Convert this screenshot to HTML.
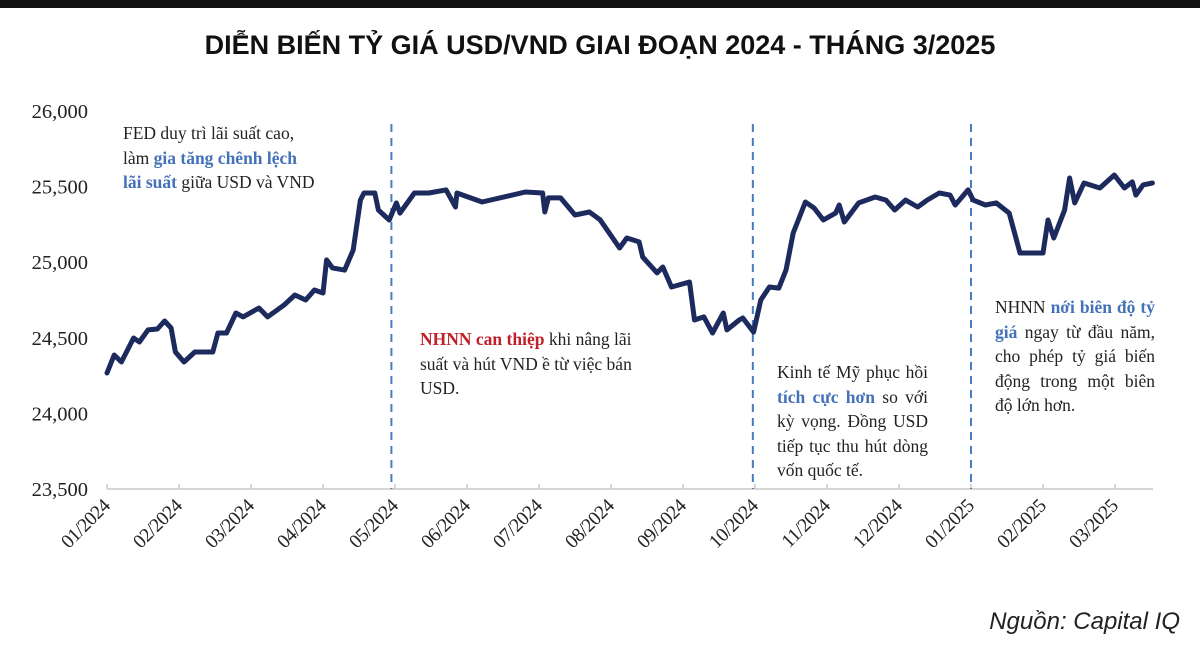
<!DOCTYPE html>
<html><head><meta charset="utf-8">
<style>
body{margin:0;width:1200px;height:654px;background:#fff;position:relative;overflow:hidden;font-family:"Liberation Serif",serif}
.ann{position:absolute;font-size:17.5px;line-height:24.5px;color:#222}
.ann div{white-space:nowrap}
.j div{text-align:justify;text-align-last:justify;white-space:normal}
.j div.last{text-align-last:left}
.b{color:#4472b8;font-weight:bold}
.r{color:#c0202a;font-weight:bold}
</style></head><body>
<div style="position:absolute;left:0;top:0;width:1200px;height:8px;background:#111"></div>
<div style="position:absolute;left:0;top:30px;width:1200px;text-align:center;font-family:'Liberation Sans',sans-serif;font-weight:bold;font-size:27px;color:#111">DIỄN BIẾN TỶ GIÁ USD/VND GIAI ĐOẠN 2024 - THÁNG 3/2025</div>
<svg id="chart" width="1200" height="654" style="position:absolute;left:0;top:0"></svg>
<div class="ann" style="left:123px;top:121px">
<div>FED duy trì lãi suất cao,</div><div>làm <span class="b">gia tăng chênh lệch</span></div><div><span class="b">lãi suất</span> giữa USD và VND</div></div>
<div class="ann" style="left:420px;top:327px">
<div><span class="r">NHNN can thiệp</span> khi nâng lãi</div><div>suất và hút VND ề từ việc bán</div><div>USD.</div></div>
<div class="ann j" style="left:777px;top:360px;width:151px">
<div>Kinh tế Mỹ phục hồi</div><div><span class="b">tích cực hơn</span> so với</div><div>kỳ vọng. Đồng USD</div><div>tiếp tục thu hút dòng</div><div class="last">vốn quốc tế.</div></div>
<div class="ann j" style="left:995px;top:295px;width:160px">
<div>NHNN <span class="b">nới biên độ tỷ</span></div><div><span class="b">giá</span> ngay từ đầu năm,</div><div>cho phép tỷ giá biến</div><div>động trong một biên</div><div class="last">độ lớn hơn.</div></div>
<div style="position:absolute;right:20px;top:608px;font-family:'Liberation Sans',sans-serif;font-style:italic;font-size:24px;color:#222">Nguồn: Capital IQ</div>
<script>
const monthLabels=["01/2024","02/2024","03/2024","04/2024","05/2024","06/2024","07/2024","08/2024","09/2024","10/2024","11/2024","12/2024","01/2025","02/2025","03/2025"];
const yTicks=[23500,24000,24500,25000,25500,26000];
const eventMonths=[3.95,8.97,12.0];
const t=[0,0.10,0.20,0.37,0.45,0.57,0.70,0.80,0.89,0.95,1.07,1.22,1.47,1.54,1.66,1.79,1.89,2.11,2.23,2.46,2.61,2.76,2.88,3.00,3.05,3.13,3.30,3.42,3.52,3.57,3.72,3.77,3.92,4.02,4.07,4.27,4.47,4.71,4.84,4.86,5.21,5.81,6.05,6.08,6.13,6.30,6.50,6.70,6.85,7.12,7.22,7.39,7.44,7.64,7.72,7.84,8.09,8.16,8.29,8.41,8.56,8.61,8.78,8.83,8.98,9.08,9.20,9.33,9.43,9.53,9.70,9.82,9.95,10.12,10.17,10.24,10.44,10.67,10.82,10.94,11.09,11.26,11.39,11.56,11.71,11.78,11.96,12.03,12.20,12.35,12.53,12.68,13.00,13.07,13.15,13.30,13.37,13.44,13.57,13.79,13.99,14.13,14.24,14.29,14.39,14.52];
const rate=[24267,24386,24340,24499,24472,24552,24558,24611,24565,24406,24340,24406,24406,24532,24532,24664,24638,24697,24638,24717,24783,24750,24816,24796,25015,24962,24948,25081,25411,25458,25458,25345,25279,25392,25325,25458,25458,25478,25365,25458,25398,25464,25458,25332,25425,25425,25312,25332,25280,25094,25160,25134,25034,24929,24968,24836,24869,24618,24638,24532,24664,24552,24618,24631,24538,24750,24836,24829,24948,25193,25398,25359,25279,25325,25378,25266,25392,25431,25411,25345,25411,25365,25411,25458,25444,25378,25478,25411,25378,25392,25325,25061,25061,25279,25160,25345,25557,25392,25524,25491,25577,25491,25531,25444,25511,25524];
const NS="http://www.w3.org/2000/svg";
const svg=document.getElementById('chart');
const X0=107,XM=72,Y0=489,YK=378/2500;
const xs=m=>X0+m*XM, ys=v=>Y0-(v-23500)*YK;
function mk(tag,attrs){const e=document.createElementNS(NS,tag);for(const k in attrs)e.setAttribute(k,attrs[k]);svg.appendChild(e);return e;}
const ax=mk('line',{x1:X0,x2:1153,y1:Y0,y2:Y0,stroke:'#c8c8c8','stroke-width':1.5});


yTicks.forEach(v=>{const tx=mk('text',{x:88,y:ys(v)+7,'text-anchor':'end','font-size':20.5,'font-family':'Liberation Serif, serif',fill:'#222'});tx.textContent=v.toLocaleString('en-US');

});
monthLabels.forEach((lb,i)=>{const x=xs(i);
const tk=mk('line',{x1:x,x2:x,y1:Y0-5,y2:Y0,stroke:'#c8c8c8','stroke-width':1.5});


const ex=x+4, ey=Y0+18;
const tx=mk('text',{x:ex,y:ey,'text-anchor':'end','font-size':19.5,'font-family':'Liberation Serif, serif',fill:'#222','letter-spacing':'-0.6',transform:`rotate(-45 ${ex} ${ey})`});tx.textContent=lb;

});
eventMonths.forEach(m=>{const l=mk('line',{x1:xs(m),x2:xs(m),y1:124,y2:Y0,stroke:'#4a7cc0','stroke-width':2,'stroke-dasharray':'8,6'});

});
const d=t.map((m,i)=>(i?'L':'M')+xs(m).toFixed(1)+','+ys(rate[i]).toFixed(1)).join(' ');
const p=mk('path',{d:d,fill:'none',stroke:'#1c2a5e','stroke-width':5,'stroke-linejoin':'round','stroke-linecap':'round'});


</script>
</body></html>
